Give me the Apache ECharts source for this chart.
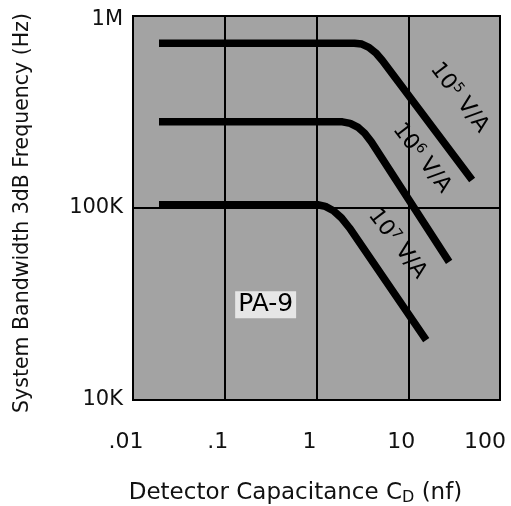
<!DOCTYPE html>
<html><head><meta charset="utf-8">
<script src="https://cdn.jsdelivr.net/npm/echarts@6/dist/echarts.min.js"></script>
<style>html,body{margin:0;padding:0;background:#fff}#c{width:511px;height:506px}</style>
</head><body><div id="c"></div>
<script>
// Tick labels
const xTickLabels = ['.01', '.1', '1', '10', '100'];
const yTickLabels = ['10K', '100K', '1M'];

// Detector capacitance (nF) and bandwidth (Hz) for each transimpedance gain
const gain1e5Cap  = [0.0192, 2.59, 3.12, 3.72, 4.42, 5.22, 49.7];
const gain1e5Freq = [722000, 722000, 714000, 687000, 643000, 587000, 140000];

const gain1e6Cap  = [0.0192, 1.92, 2.33, 2.81, 3.35, 3.96, 27.9];
const gain1e6Freq = [281000, 281000, 276000, 264000, 245000, 221000, 52400];

const gain1e7Cap  = [0.0192, 1.03, 1.25, 1.53, 1.87, 2.29, 15.7];
const gain1e7Freq = [104000, 104000, 101900, 96800, 88800, 78700, 20500];

// Curve labels: text, superscript, anchor (capacitance, frequency)
const curveLabels = [
  { base: '10', exp: '5', unit: ' V/A', cap: 36.0, freq: 375000 },
  { base: '10', exp: '6', unit: ' V/A', cap: 14.0, freq: 182000 },
  { base: '10', exp: '7', unit: ' V/A', cap: 7.6,  freq: 65000 }
];
const modelLabel = { text: 'PA-9', cap: 0.279, freq: 31300 };

const FONT = 'DejaVu Sans';
const zip = (a, b) => a.map((v, i) => [v, b[i]]);

const chart = echarts.init(document.getElementById('c'), null, { renderer: 'canvas' });

function curve(cap, freq) {
  return {
    type: 'line', data: zip(cap, freq), symbol: 'none', smooth: false,
    lineStyle: { color: '#000', width: 7.5, cap: 'butt', join: 'round' }, silent: true, z: 3
  };
}

chart.setOption({
  animation: false,
  backgroundColor: '#fff',
  grid: { left: 133, right: 11, top: 16, bottom: 106, show: true, outerBoundsMode: 'none',
          containLabel: false,
          backgroundColor: '#a3a3a3', borderColor: '#000', borderWidth: 2 },
  xAxis: {
    type: 'log', logBase: 10, min: 0.01, max: 100,
    axisLine: { show: false }, axisTick: { show: false },
    splitLine: { show: true, lineStyle: { color: '#000', width: 2 } },
    axisLabel: {
      margin: 31, fontFamily: FONT, fontSize: 22, color: '#111',
      formatter: v => {
        const i = Math.round(Math.log10(v)) + 2;
        return i === 4 ? '{b|' + xTickLabels[i] + '}' : '{a|' + xTickLabels[i] + '}';
      },
      rich: {
        a: { fontFamily: FONT, fontSize: 22, color: '#111', padding: [0, 14, 0, 0] },
        b: { fontFamily: FONT, fontSize: 22, color: '#111', padding: [0, 30, 0, 0] }
      }
    },
    name: 'Detector Capacitance C{sub|D} (nf)', nameLocation: 'middle', nameGap: 80,
    nameTextStyle: { fontFamily: FONT, fontSize: 23, color: '#111', padding: [0, 42, 0, 0],
      rich: { sub: { fontFamily: FONT, fontSize: 16, color: '#111', verticalAlign: 'bottom', padding: [10, 0, 0, 0] } } }
  },
  yAxis: {
    type: 'log', logBase: 10, min: 10000, max: 1000000,
    axisLine: { show: false }, axisTick: { show: false },
    splitLine: { show: true, lineStyle: { color: '#000', width: 2 } },
    axisLabel: {
      margin: 10, fontFamily: FONT, fontSize: 21, color: '#111',
      formatter: v => {
        const i = Math.round(Math.log10(v)) - 4;
        return i === 2 ? '{t|' + yTickLabels[i] + '}' : yTickLabels[i];
      },
      rich: { t: { fontFamily: FONT, fontSize: 21, color: '#111', padding: [8, 0, 0, 0] } }
    },
    name: 'System Bandwidth 3dB Frequency (Hz)', nameLocation: 'middle', nameGap: 100,
    nameTextStyle: { fontFamily: FONT, fontSize: 20.5, color: '#111', padding: [0, 10, 0, 0] }
  },
  series: [
    curve(gain1e5Cap, gain1e5Freq),
    curve(gain1e6Cap, gain1e6Freq),
    curve(gain1e7Cap, gain1e7Freq)
  ]
});

const pt = (c, f) => chart.convertToPixel({ xAxisIndex: 0, yAxisIndex: 0 }, [c, f]);
const graphics = curveLabels.map(l => {
  const p = pt(l.cap, l.freq);
  return {
    type: 'text', x: p[0], y: p[1], rotation: -0.92, z: 10,
    style: {
      text: l.base + '{s|' + l.exp + '}' + l.unit,
      font: '22px "' + FONT + '"', fill: '#000', align: 'center', verticalAlign: 'middle',
      rich: { s: { font: '14px "' + FONT + '"', fill: '#000', verticalAlign: 'top', padding: [0, 0, 10, 0] } }
    }
  };
});
const mp = pt(modelLabel.cap, modelLabel.freq);
graphics.push({
  type: 'text', x: mp[0], y: mp[1], z: 10,
  style: { text: modelLabel.text, font: '25px "' + FONT + '"', fill: '#000',
           align: 'center', verticalAlign: 'middle',
           backgroundColor: '#e6e6e6', padding: [1, 3] }
});
chart.setOption({ graphic: graphics });
</script>
</body></html>
